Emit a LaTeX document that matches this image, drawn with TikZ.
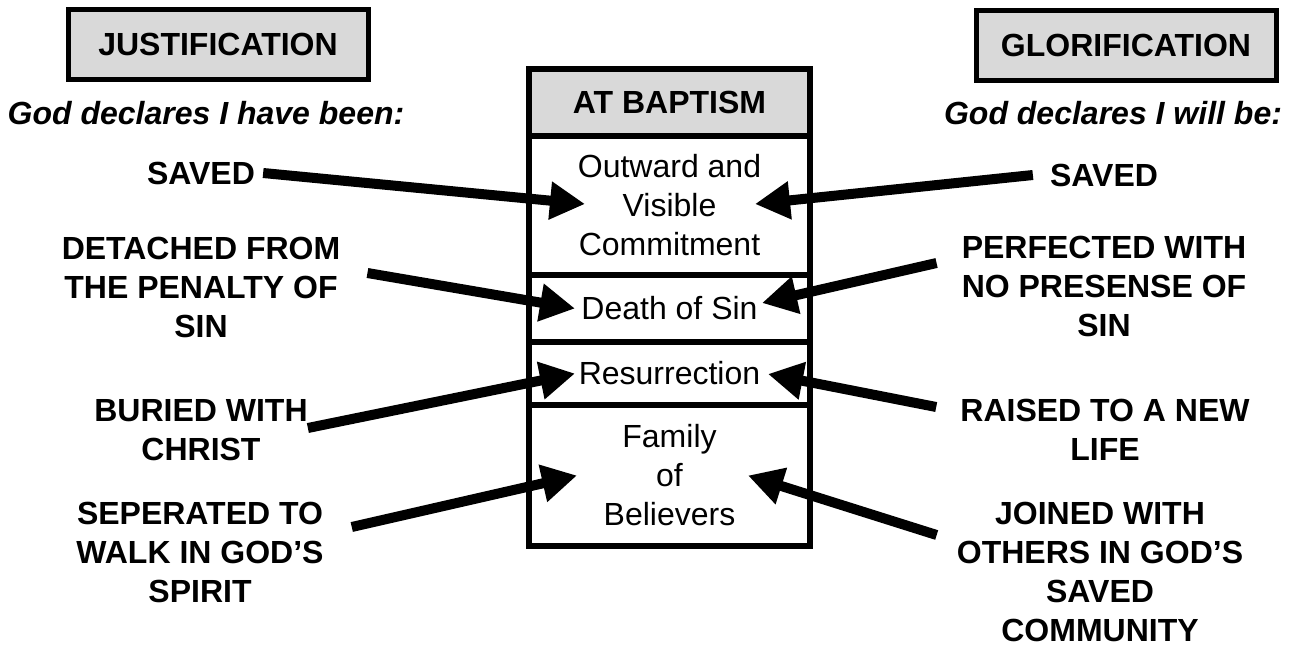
\documentclass[tikz,border=0pt]{standalone}
\usepackage{fontspec}
\setmainfont{Liberation Sans}
\usepackage{tikz}
\usetikzlibrary{positioning,arrows.meta}
\usetikzlibrary{calc}
\definecolor{boxgray}{RGB}{217,217,217}

\begin{document}
\begin{tikzpicture}[x=1pt, y=-1pt,
		titlebox/.style={draw, line width=5pt, fill=boxgray, minimum width=300pt, minimum height=70pt, font=\bfseries\fontsize{32}{38}\selectfont},
		subtitle/.style={font=\bfseries\itshape\fontsize{32}{38}\selectfont},
		cell/.style={draw, line width=5.5pt, outer sep=0pt, inner sep=0pt, minimum width=281pt, align=center, font=\fontsize{32}{39}\selectfont},
		claim/.style={align=center, inner sep=0pt, font=\bfseries\fontsize{32}{39}\selectfont},
		bigarrow/.style={line width=10pt, -{Triangle[length=35pt, width=36pt]}}]
		\useasboundingbox (0,0) rectangle (1292,646);

		\node[titlebox] (just) at (218,44) {JUSTIFICATION};
		\node[titlebox] (glor) at (1126,45) {GLORIFICATION};
		\node[subtitle] (beenL) at (206,113) {God declares I have been:};
		\node[subtitle] (willR) at (1113,113) {God declares I will be:};

		\node[cell, fill=boxgray, minimum height=67pt, font=\bfseries\fontsize{32}{39}\selectfont] (baptism) at (669.5,102.5) {AT BAPTISM};
		\node[cell, minimum height=139pt, below=0pt of {baptism}] (outward) {Outward and\\Visible\\Commitment};
		\node[cell, minimum height=67pt, below=0pt of {outward}] (death) {Death of Sin};
		\node[cell, minimum height=63pt, below=0pt of {death}] (resur) {Resurrection};
		\node[cell, minimum height=141pt, below=0pt of {resur}] (family) {Family\\of\\Believers};

		\node[claim] (savedL) at (201,173) {SAVED};
		\node[claim] (detL) at (201,287) {DETACHED FROM\\THE PENALTY OF\\SIN};
		\node[claim] (buriedL) at (201,430) {BURIED WITH\\CHRIST};
		\node[claim] (sepL) at (200,552) {SEPERATED TO\\WALK IN GOD’S\\SPIRIT};

		\node[claim] (savedR) at (1104,175) {SAVED};
		\node[claim] (perfR) at (1104,286) {PERFECTED WITH\\NO PRESENSE OF\\SIN};
		\node[claim] (raisedR) at (1105,430) {RAISED TO A NEW\\LIFE};
		\node[claim] (joinedR) at (1100,572) {JOINED WITH\\OTHERS IN GOD’S\\SAVED\\COMMUNITY};

		\draw[bigarrow] ($(savedL.east)+(8,0)$) -- ($(outward)+(-84.5,-1.5)$);
		\draw[bigarrow] ($(detL.east)+(27,-14)$) -- ($(death)+(-94.5,0)$);
		\draw[bigarrow] ($(buriedL.east)+(0,-2)$) -- ($(resur)+(-94.5,0)$);
		\draw[bigarrow] ($(sepL.east)+(28,-25)$) -- ($(family)+(-92.5,0)$);

		\draw[bigarrow] ($(savedR.west)+(-17,0)$) -- ($(outward)+(85.5,-1.5)$);
		\draw[bigarrow] ($(perfR.west)+(-25,-23)$) -- ($(death)+(92.5,-5.5)$);
		\draw[bigarrow] ($(raisedR.west)+(-24,-23)$) -- ($(resur)+(98.5,0.5)$);
		\draw[bigarrow] ($(joinedR.west)+(-20,-37)$) -- ($(family)+(78.5,0)$);
	\end{tikzpicture}
\end{document}
